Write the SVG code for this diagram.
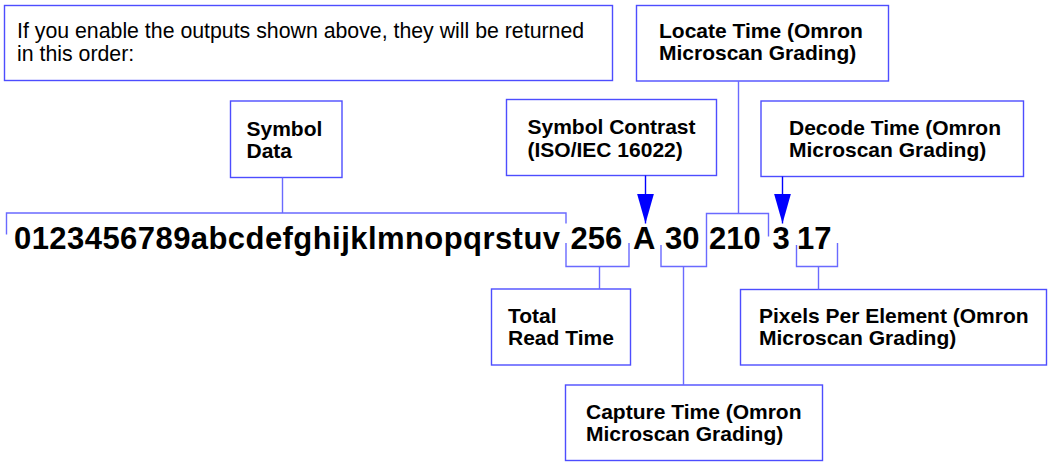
<svg xmlns="http://www.w3.org/2000/svg" width="1048" height="462" viewBox="0 0 1048 462">
<style>
.box{fill:#fff;stroke:#4d4dff;stroke-width:1.4}
.lbl{font-family:"Liberation Sans",Arial,sans-serif;font-weight:bold;font-size:21px;fill:#000}
.reg{font-family:"Liberation Sans",Arial,sans-serif;font-size:21.3px;fill:#000}
.big{font-family:"Liberation Sans",Arial,sans-serif;font-weight:bold;font-size:31px;fill:#000}
.con{fill:none;stroke:#6a6aff;stroke-width:1.4}
.arr{fill:none;stroke:#0000ff;stroke-width:1.4}
</style>
<defs>
<marker id="ah" markerUnits="userSpaceOnUse" markerWidth="31" markerHeight="18" refX="30" refY="8.5" orient="auto">
<path d="M0,0 L30,8.5 L0,17 z" fill="#0000ff"/>
</marker>
</defs>
<g id="intro">
<rect class="box" x="4.5" y="5.5" width="608" height="75"/>
<text class="reg" x="17" y="38">If you enable the outputs shown above, they will be returned</text>
<text class="reg" x="17" y="61">in this order:</text>
</g>
<g id="output-string">
<text class="big" x="14" y="248.5" textLength="546" lengthAdjust="spacing">0123456789abcdefghijklmnopqrstuv</text>
<text class="big" x="570.5" y="248.5">256</text>
<text class="big" x="633" y="248.5">A</text>
<text class="big" x="665" y="248.5">30</text>
<text class="big" x="709" y="248.5">210</text>
<text class="big" x="772.5" y="248.5">3</text>
<text class="big" x="797" y="248.5">17</text>
</g>
<g id="symbol-data">
<rect class="box" x="230.5" y="101" width="111.5" height="76.5"/>
<text class="lbl" x="246.5" y="135.5">Symbol</text>
<text class="lbl" x="246.5" y="158">Data</text>
</g>
<g id="symbol-contrast">
<rect class="box" x="506.5" y="99.5" width="210" height="76"/>
<text class="lbl" x="527.5" y="134">Symbol Contrast</text>
<text class="lbl" x="527.5" y="156.5">(ISO/IEC 16022)</text>
</g>
<g id="locate-time">
<rect class="box" x="636.5" y="5.5" width="252" height="75.5"/>
<text class="lbl" x="659" y="38">Locate Time (Omron</text>
<text class="lbl" x="659" y="60">Microscan Grading)</text>
</g>
<g id="decode-time">
<rect class="box" x="761" y="101" width="262.5" height="75.5"/>
<text class="lbl" x="789" y="135">Decode Time (Omron</text>
<text class="lbl" x="789" y="157">Microscan Grading)</text>
</g>
<g id="total-read-time">
<rect class="box" x="491.5" y="289" width="139" height="76"/>
<text class="lbl" x="508" y="323">Total</text>
<text class="lbl" x="508" y="345">Read Time</text>
</g>
<g id="pixels-per-element">
<rect class="box" x="740.5" y="289.5" width="306" height="75.5"/>
<text class="lbl" x="759" y="322.5">Pixels Per Element (Omron</text>
<text class="lbl" x="759" y="344.5">Microscan Grading)</text>
</g>
<g id="capture-time">
<rect class="box" x="565.5" y="385" width="257" height="75.5"/>
<text class="lbl" x="586" y="419">Capture Time (Omron</text>
<text class="lbl" x="586" y="441">Microscan Grading)</text>
</g>
<g id="connectors">
<path class="con" d="M282.5,177.5 V213"/>
<path class="con" d="M6.5,234.5 V213 H566 V223.5"/>
<path class="con" d="M566,243 V266.5 H629 V243"/>
<path class="con" d="M599.5,266.5 V289"/>
<path class="con" d="M661,245 V266.5 H706.5 V213.5 H768.5 V236.5"/>
<path class="con" d="M738.5,81 V213.5"/>
<path class="con" d="M683.5,266.5 V385"/>
<path class="con" d="M796.5,245 V266.5 H837.5 V243"/>
<path class="con" d="M818.5,266.5 V289.5"/>
<path class="arr" d="M645.5,175.5 V223.5" marker-end="url(#ah)"/>
<path class="arr" d="M782.5,176.5 V223.5" marker-end="url(#ah)"/>
</g>
</svg>
